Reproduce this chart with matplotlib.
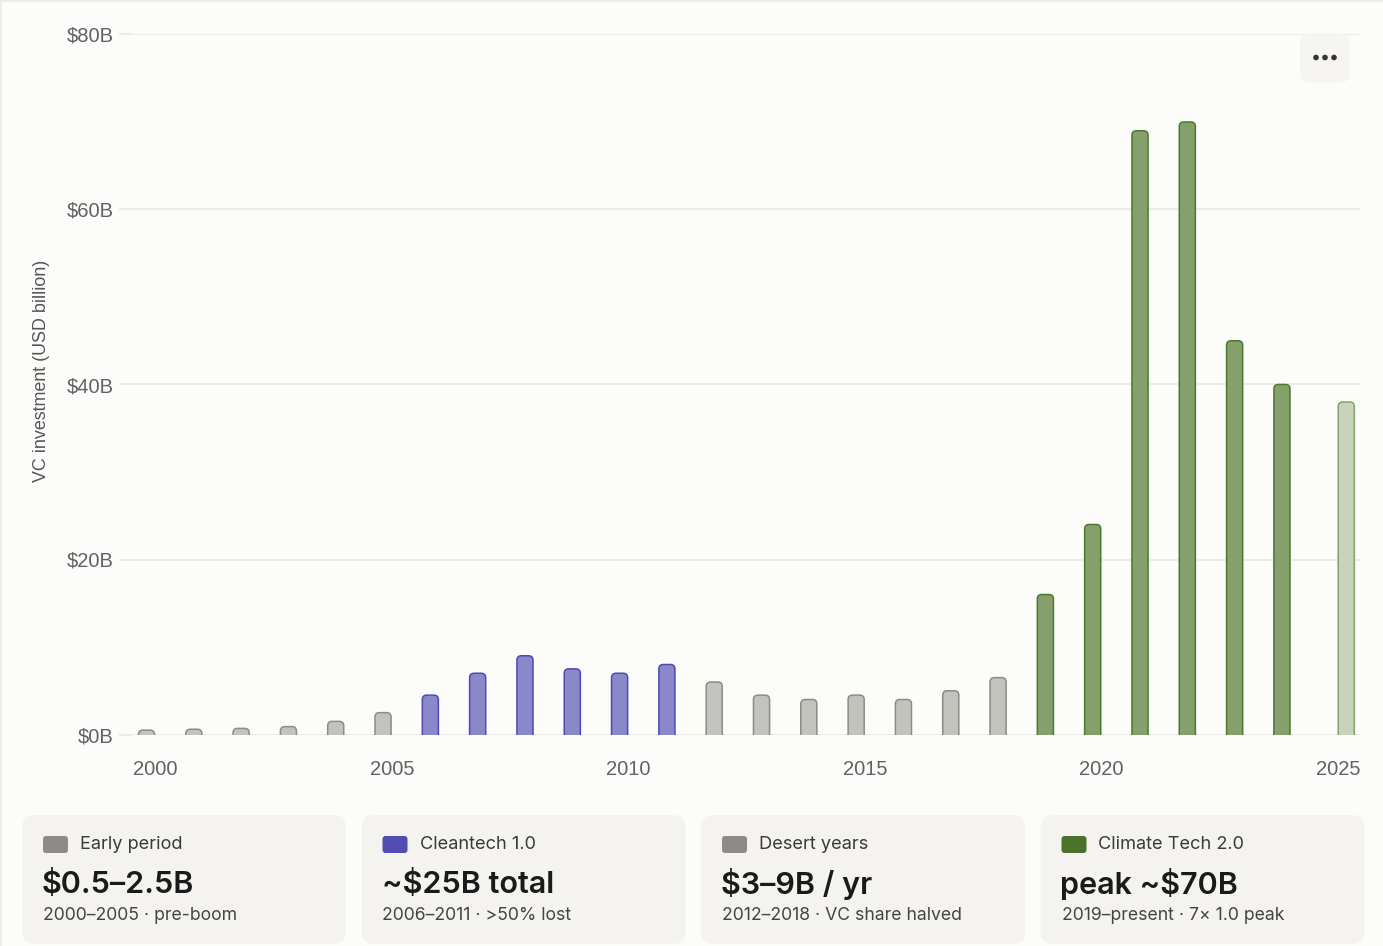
import numpy as np
import matplotlib.pyplot as plt
from matplotlib.patches import FancyBboxPatch, Rectangle, Circle
from matplotlib.ticker import FuncFormatter

# annual climate-tech VC investment, USD billion
years = np.arange(2000, 2026)
values = [0.5, 0.6, 0.7, 0.9, 1.5, 2.5,
          4.5, 7, 9, 7.5, 7, 8,
          6, 4.5, 4, 4.5, 4, 5, 6.5,
          16, 24, 69, 70, 45, 40, 38]
eras = (["early"] * 6 + ["cleantech"] * 6 + ["desert"] * 7
        + ["climate"] * 6 + ["partial"])

card_titles = ["Early period", "Cleantech 1.0", "Desert years", "Climate Tech 2.0"]
card_values = ["$0.5–2.5B", "~$25B total", "$3–9B / yr", "peak ~$70B"]
card_notes = ["2000–2005 · pre-boom", "2006–2011 · >50% lost",
              "2012–2018 · VC share halved", "2019–present · 7× 1.0 peak"]
card_swatch = ["#8c8b86", "#524cb3", "#8c8b86", "#4a7229"]

BG = "#fcfcfa"
CARD = "#f4f3ef"
fill = {"early": "#c3c3be", "cleantech": "#8b88c9", "desert": "#c3c3be",
        "climate": "#86a06d", "partial": "#c7d4bb"}
edge = {"early": "#8c8c87", "cleantech": "#4f49b6", "desert": "#8c8c87",
        "climate": "#4b7a2c", "partial": "#84a26c"}

W, H = 1383, 946
fig = plt.figure(figsize=(W / 100, H / 100), dpi=100, facecolor=BG)

ax = fig.add_axes([133 / W, 211.5 / H, (1360 - 133) / W, 700 / H])
ax.set_facecolor(BG)
ax.set_xlim(1999.525, 2025.46)
ax.set_ylim(0, 80)

# bars sit a little left of their year tick; the running year sits right of it
xpos = years - 0.19
xpos[-1] = years[-1] + 0.17

bars = ax.bar(xpos, values, width=0.34)
px_x = 1227 / (2025.46 - 1999.525)
px_y = 700 / 80
for b, era in zip(bars, eras):
    x0, w, h = b.get_x(), b.get_width(), b.get_height()
    b.remove()
    # rounded top, bottom corners pushed below the baseline and clipped
    p = FancyBboxPatch((x0, -2), w, h + 2,
                       boxstyle="round,pad=0,rounding_size=%f" % (4.5 / px_x),
                       mutation_aspect=px_x / px_y,
                       fc=fill[era], ec=edge[era], lw=1.1, zorder=3)
    ax.add_patch(p)

for s in ax.spines.values():
    s.set_visible(False)
ax.set_axisbelow(True)
ax.yaxis.grid(True, color="#ebebe9", lw=1.5)
ax.set_yticks([0, 20, 40, 60, 80])
ax.yaxis.set_major_formatter(FuncFormatter(lambda v, _: "$%dB" % v))
ax.set_xticks([2000, 2005, 2010, 2015, 2020, 2025])
ax.tick_params(axis="y", length=10, width=1.5, color="#ebebe9", pad=4,
               labelsize=14.5, labelcolor="#626262")
ax.tick_params(axis="x", length=0, pad=18, labelsize=14.5, labelcolor="#626262")
for lab in ax.get_xticklabels() + ax.get_yticklabels():
    lab.set_family("Liberation Sans")
ax.set_ylabel("VC investment (USD billion)", family="Liberation Sans",
              fontsize=12.9, color="#555555")
ax.yaxis.set_label_coords(-0.068, 0.52)

# overlay in pixel coordinates for cards, frame and menu button
ov = fig.add_axes([0, 0, 1, 1], zorder=5)
ov.set_xlim(0, W)
ov.set_ylim(H, 0)
ov.axis("off")
ov.patch.set_alpha(0)

ov.add_patch(Rectangle((0, 0), W, 2.5, fc="#ededeb", ec="none"))
ov.add_patch(Rectangle((0, 0), 1.5, H, fc="#ededeb", ec="none"))

ov.add_patch(FancyBboxPatch((1300, 33), 50, 50,
                            boxstyle="round,pad=0,rounding_size=11",
                            fc="#f6f5f2", ec="none"))
for dx in (-9, 0, 9):
    ov.add_patch(Circle((1325 + dx, 57.5), 2.8, fc="#333333", ec="none"))

card_font = ["Inter", "DejaVu Sans"]
for i in range(4):
    left = 22 + i * 339.5
    ov.add_patch(FancyBboxPatch((left, 815), 324, 129,
                                boxstyle="round,pad=0,rounding_size=13",
                                fc=CARD, ec="none"))
    ov.add_patch(FancyBboxPatch((left + 21, 836), 25, 17,
                                boxstyle="round,pad=0,rounding_size=3",
                                fc=card_swatch[i], ec="none"))
    ov.text(left + 58, 844.5, card_titles[i], family=card_font, fontsize=13.1,
            color="#3a3a3a", va="center", ha="left")
    ov.text(left + 20, 884, card_values[i], family=card_font, fontsize=22,
            fontweight="semibold", color="#1a1a1a", va="center", ha="left")
    ov.text(left + 21, 915.5, card_notes[i], family=card_font, fontsize=12.7,
            color="#444444", va="center", ha="left")

fig.savefig("out.png", dpi=100, facecolor=BG)
